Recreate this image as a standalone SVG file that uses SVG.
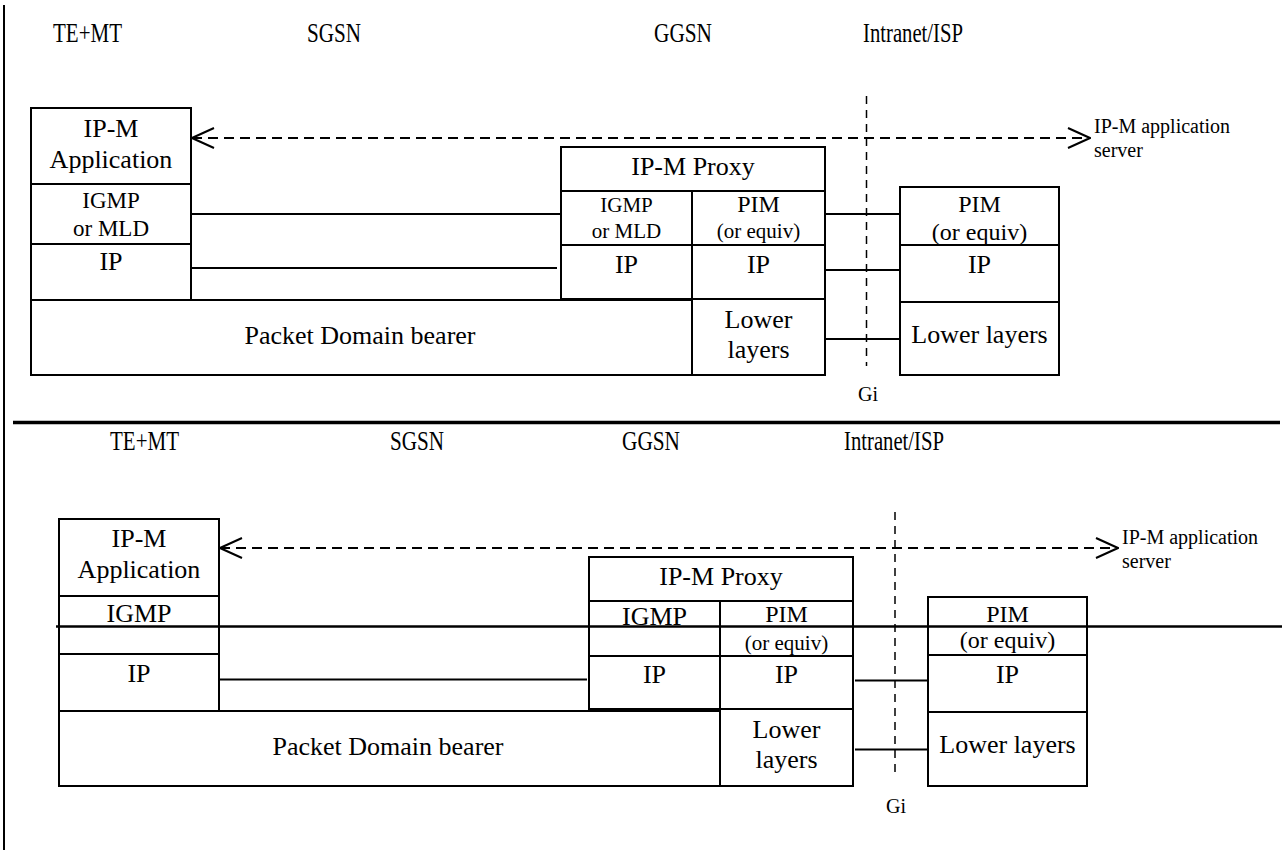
<svg xmlns="http://www.w3.org/2000/svg" width="1282" height="850" viewBox="0 0 1282 850" font-family="'Liberation Serif', Tinos, 'Times New Roman', 'DejaVu Serif', serif">
<style>
text{font-family:'Liberation Serif',Tinos,'Times New Roman','DejaVu Serif',serif;fill:#000}
.h{font-size:27px}
.b{font-size:26px;text-anchor:middle}
.s21{font-size:21px;text-anchor:middle}
.s23{font-size:23px;text-anchor:middle}
.s24{font-size:24px;text-anchor:middle}
.l{font-size:20px}
.box{fill:#fff;stroke:#000;stroke-width:2}
.ln{stroke:#000;stroke-width:2;fill:none}
.dash{stroke:#000;stroke-width:2;stroke-dasharray:10 6;fill:none}
.gi{stroke:#000;stroke-width:1.5;stroke-dasharray:8 6;fill:none}
</style>
<defs>
<marker id="open" viewBox="0 0 24 22" refX="23" refY="11" markerWidth="24" markerHeight="22" markerUnits="userSpaceOnUse" orient="auto-start-reverse">
<path d="M1,1 L23,11 L1,21" fill="none" stroke="#000" stroke-width="2" stroke-dasharray="none"/>
</marker>
</defs>
<rect width="1282" height="850" fill="#fff"/>

<g id="frame">
<line x1="4" y1="5" x2="4" y2="850" class="ln"/>
<line x1="13" y1="422.5" x2="1280" y2="422.5" stroke="#000" stroke-width="3.5"/>
</g>

<!-- ===== TOP DIAGRAM ===== -->
<g id="top-headers">
<text class="h" x="53" y="42" textLength="69" lengthAdjust="spacingAndGlyphs">TE+MT</text>
<text class="h" x="307" y="42" textLength="54" lengthAdjust="spacingAndGlyphs">SGSN</text>
<text class="h" x="654" y="42" textLength="58" lengthAdjust="spacingAndGlyphs">GGSN</text>
<text class="h" x="863" y="42" textLength="100" lengthAdjust="spacingAndGlyphs">Intranet/ISP</text>
</g>

<g id="top-bearer">
<rect class="box" x="31" y="300" width="661" height="75"/>
<text class="b" x="360" y="344">Packet Domain bearer</text>
</g>

<g id="top-te">
<rect class="box" x="31" y="108" width="160" height="76"/>
<text class="b" x="111" y="137">IP-M</text>
<text class="b" x="111" y="168">Application</text>
<rect class="box" x="31" y="184" width="160" height="60"/>
<text class="s23" x="111" y="208">IGMP</text>
<text class="s23" x="111" y="236">or MLD</text>
<rect class="box" x="31" y="244" width="160" height="56"/>
<text class="b" x="111" y="270">IP</text>
</g>

<g id="top-proxy">
<rect class="box" x="561" y="147" width="264" height="44"/>
<text class="b" x="693" y="175">IP-M Proxy</text>
<rect class="box" x="561" y="191" width="131" height="54"/>
<text class="s21" x="626.5" y="212">IGMP</text>
<text class="s21" x="626.5" y="238">or MLD</text>
<rect class="box" x="692" y="191" width="133" height="54"/>
<text class="s24" x="758.5" y="212">PIM</text>
<text class="s21" x="758.5" y="238">(or equiv)</text>
<rect class="box" x="561" y="245" width="131" height="54"/>
<text class="b" x="626.5" y="273">IP</text>
<rect class="box" x="692" y="245" width="133" height="54"/>
<text class="b" x="758.5" y="273">IP</text>
<rect class="box" x="692" y="299" width="133" height="76"/>
<text class="b" x="758.5" y="328">Lower</text>
<text class="b" x="758.5" y="358">layers</text>
</g>

<g id="top-isp">
<rect class="box" x="900" y="187" width="159" height="58"/>
<text class="s24" x="979.5" y="212">PIM</text>
<text class="s24" x="979.5" y="240">(or equiv)</text>
<rect class="box" x="900" y="245" width="159" height="57"/>
<text class="b" x="979.5" y="273">IP</text>
<rect class="box" x="900" y="302" width="159" height="73"/>
<text class="b" x="979.5" y="343">Lower layers</text>
</g>

<g id="top-gi">
<line class="gi" x1="866.5" y1="96" x2="866.5" y2="366"/>
<text class="l" x="858" y="401">Gi</text>
</g>

<g id="top-server">
<text class="l" x="1094" y="133">IP-M application</text>
<text class="l" x="1094" y="157">server</text>
</g>

<g id="top-connectors">
<line class="dash" x1="192" y1="138" x2="1090" y2="138" marker-start="url(#open)" marker-end="url(#open)"/>
<line class="ln" x1="191" y1="214" x2="561" y2="214"/>
<line class="ln" x1="191" y1="268" x2="557" y2="268"/>
<line class="ln" x1="826" y1="214" x2="900" y2="214"/>
<line class="ln" x1="826" y1="270" x2="900" y2="270"/>
<line class="ln" x1="826" y1="339" x2="900" y2="339"/>
</g>

<!-- ===== BOTTOM DIAGRAM ===== -->
<g id="bottom-headers">
<text class="h" x="110" y="450" textLength="69" lengthAdjust="spacingAndGlyphs">TE+MT</text>
<text class="h" x="390" y="450" textLength="54" lengthAdjust="spacingAndGlyphs">SGSN</text>
<text class="h" x="622" y="450" textLength="58" lengthAdjust="spacingAndGlyphs">GGSN</text>
<text class="h" x="844" y="450" textLength="100" lengthAdjust="spacingAndGlyphs">Intranet/ISP</text>
</g>

<g id="bottom-bearer">
<rect class="box" x="59" y="711" width="661" height="75"/>
<text class="b" x="388" y="755">Packet Domain bearer</text>
</g>

<g id="bottom-te">
<rect class="box" x="59" y="519" width="160" height="77"/>
<text class="b" x="139" y="547">IP-M</text>
<text class="b" x="139" y="578">Application</text>
<rect class="box" x="59" y="596" width="160" height="58"/>
<text class="b" x="139" y="622">IGMP</text>
<rect class="box" x="59" y="654" width="160" height="57"/>
<text class="b" x="139" y="682">IP</text>
</g>

<g id="bottom-proxy">
<rect class="box" x="589" y="557" width="264" height="44"/>
<text class="b" x="721" y="585">IP-M Proxy</text>
<rect class="box" x="589" y="601" width="131" height="55"/>
<text class="b" x="654.5" y="625">IGMP</text>
<rect class="box" x="720" y="601" width="133" height="55"/>
<text class="s24" x="786.5" y="622">PIM</text>
<text class="s21" x="786.5" y="650">(or equiv)</text>
<rect class="box" x="589" y="656" width="131" height="53"/>
<text class="b" x="654.5" y="683">IP</text>
<rect class="box" x="720" y="656" width="133" height="53"/>
<text class="b" x="786.5" y="683">IP</text>
<rect class="box" x="720" y="709" width="133" height="77"/>
<text class="b" x="786.5" y="738">Lower</text>
<text class="b" x="786.5" y="768">layers</text>
</g>

<g id="bottom-isp">
<rect class="box" x="928" y="597" width="159" height="58"/>
<text class="s24" x="1007.5" y="622">PIM</text>
<text class="s24" x="1007.5" y="648">(or equiv)</text>
<rect class="box" x="928" y="655" width="159" height="57"/>
<text class="b" x="1007.5" y="683">IP</text>
<rect class="box" x="928" y="712" width="159" height="74"/>
<text class="b" x="1007.5" y="753">Lower layers</text>
</g>

<g id="bottom-gi">
<line class="gi" x1="895" y1="512" x2="895" y2="776"/>
<text class="l" x="886" y="813">Gi</text>
</g>

<g id="bottom-server">
<text class="l" x="1122" y="544">IP-M application</text>
<text class="l" x="1122" y="568">server</text>
</g>

<g id="bottom-connectors">
<line class="dash" x1="220" y1="548" x2="1118" y2="548" marker-start="url(#open)" marker-end="url(#open)"/>
<line x1="56" y1="626.5" x2="1282" y2="626.5" stroke="#000" stroke-width="2.5"/>
<line class="ln" x1="219" y1="679.5" x2="587" y2="679.5"/>
<line class="ln" x1="855" y1="680.5" x2="928" y2="680.5"/>
<line class="ln" x1="855" y1="749.5" x2="928" y2="749.5"/>
</g>
</svg>
